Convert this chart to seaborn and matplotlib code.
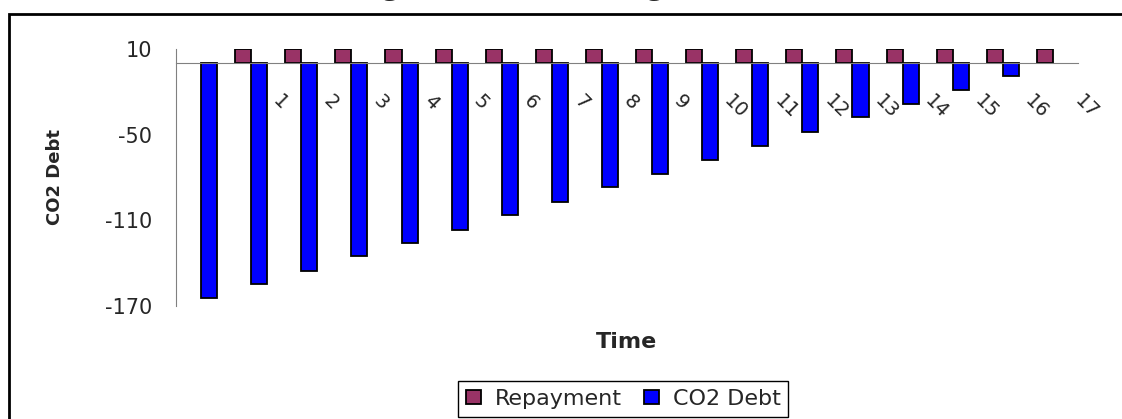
import numpy as np
import pandas as pd
import matplotlib
matplotlib.use("Agg")
import matplotlib.pyplot as plt
import matplotlib.patches as mpatches
import seaborn as sns

# data
periods = [0, 1, 2, 3, 4, 5, 6, 7, 8, 9, 10, 11, 12, 13, 14, 15, 16, 17]
time_labels = ["1", "2", "3", "4", "5", "6", "7", "8", "9", "10",
               "11", "12", "13", "14", "15", "16", "17"]
repayment = [np.nan, 10, 10, 10, 10, 10, 10, 10, 10, 10,
             10, 10, 10, 10, 10, 10, 10, 10]
co2_debt = [-164.7, -154.6, -145.3, -135.3, -125.9, -116.6, -106.1, -97.0, -86.7,
            -77.4, -68.0, -57.8, -48.2, -37.9, -28.6, -18.6, -9.2, np.nan]
y_ticks = [10, -50, -110, -170]

series_names = ["Repayment", "CO2 Debt"]
colors = ["#993366", "#0000FF"]

df = pd.DataFrame({
    "period": periods + periods,
    "series": [series_names[0]] * len(periods) + [series_names[1]] * len(periods),
    "value": repayment + co2_debt,
}).dropna()

sns.set_style("white")
plt.rcParams["font.family"] = ["DejaVu Sans"]
plt.rcParams["axes.unicode_minus"] = False

W, H = 1122, 419
fig = plt.figure(figsize=(W / 100, H / 100), dpi=100)
ax = fig.add_axes([176 / W, 113 / H, 902 / W, 257 / H])

sns.barplot(data=df, x="period", y="value", hue="series", order=periods,
            hue_order=series_names, palette=colors, width=0.64, gap=0,
            saturation=1, edgecolor="black", linewidth=1.3, errorbar=None, ax=ax)

ax.set_xlim(-0.5, len(periods) - 0.5)
ax.set_ylim(-170, 10)

# axes styling like the old Excel chart
for s in ["top", "right"]:
    ax.spines[s].set_visible(False)
ax.spines["left"].set_color("gray")
ax.spines["bottom"].set_color("gray")
ax.spines["bottom"].set_position(("data", 0))
ax.spines["left"].set_zorder(0)

bounds = np.arange(-0.5, len(periods), 1.0)
ax.set_xticks(bounds)
ax.set_xticklabels(["", ""] + time_labels)
ax.tick_params(axis="x", direction="out", length=4.3, width=1, color="gray",
               pad=21, labelsize=14)
for lbl in ax.get_xticklabels():
    lbl.set_rotation(-45)
    lbl.set_rotation_mode("anchor")
    lbl.set_ha("left")
    lbl.set_va("center")

ax.set_yticks(y_ticks)
ax.tick_params(axis="y", direction="out", length=7.2, width=1, color="gray",
               pad=10, labelsize=15)
ax.set_xlabel("")
ax.set_ylabel("")

fig.text(55 / W, 1 - 177 / H, "CO2 Debt", rotation=90, ha="center", va="center",
         fontsize=13, fontweight="bold")
fig.text(626 / W, 1 - 342 / H, "Time", ha="center", va="center",
         fontsize=16, fontweight="bold")

# caption, mostly cut off above the image
fig.text(351 / W, 1 + 7 / H, "Figure 3: CO\u2082 Savings", ha="left", va="baseline",
         fontsize=26, family=["Liberation Serif", "DejaVu Serif"])

handles, labels = ax.get_legend_handles_labels()
ax.get_legend().remove()
leg = fig.legend(handles, labels, loc="upper center",
                 bbox_to_anchor=(623 / W, 1 - 381 / H), ncol=2, frameon=True,
                 fancybox=False, edgecolor="black", framealpha=1, fontsize=16,
                 handlelength=0.7, handleheight=0.6, handletextpad=0.6,
                 columnspacing=1.0, borderpad=0.35, borderaxespad=0)
leg.get_frame().set_linewidth(1)

# outer chart border (cut at right and bottom)
fig.add_artist(mpatches.Rectangle((9 / W, -0.1), 1.2, 1.1 - 14 / H,
                                  transform=fig.transFigure, fill=False,
                                  edgecolor="black", linewidth=2))

fig.savefig("out.png", dpi=100)
